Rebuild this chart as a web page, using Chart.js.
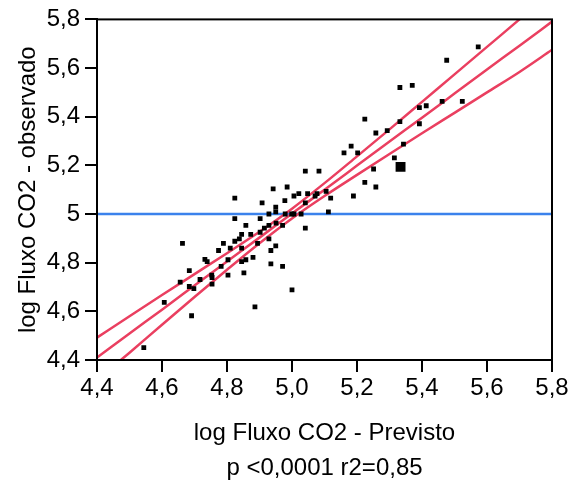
<!DOCTYPE html>
<html>
<head>
<meta charset="utf-8">
<script src="https://cdn.jsdelivr.net/npm/chart.js@4/dist/chart.umd.min.js"></script>
<style>
  body { margin: 0; background: #fff; }
  #wrap { width: 571px; height: 484px; }
</style>
</head>
<body>
<div id="wrap"><canvas id="co2-chart"></canvas></div>
<script>
var previsto = [5.573, 5.476, 5.370, 5.332, 5.392, 5.413, 5.462, 5.524, 5.392, 5.332,
  5.224, 5.293, 5.258, 5.343, 5.182, 5.160, 5.202, 5.315, 5.334, 5.251,
  5.041, 5.083, 5.224, 5.258, 5.189, 5.021, 5.048, 5.071, 5.077, 5.105,
  5.119, 5.041, 5.112, 5.028, 4.942, 4.985, 4.824, 4.908, 5.006, 4.978,
  4.950, 4.950, 4.929, 4.979, 4.999, 5.006, 4.824, 4.858, 4.902, 4.951,
  4.929, 4.971, 4.915, 5.041, 4.902, 4.873, 4.845, 4.838, 4.824, 4.894,
  4.929, 4.789, 4.810, 4.845, 4.950, 4.935, 4.774, 4.732, 4.739, 4.803,
  4.845, 4.858, 4.880, 4.782, 4.935, 4.971, 4.852, 4.803, 4.753, 4.754,
  4.754, 4.717, 5.000, 4.663, 4.684, 4.656, 4.684, 4.698, 4.607, 4.691,
  4.544, 4.886]
var observado = [5.687, 5.632, 5.529, 5.520, 5.437, 5.445, 5.463, 5.463, 5.371, 5.380,
  5.390, 5.343, 5.333, 5.287, 5.279, 5.251, 5.251, 5.231, 5.194, 5.185,
  5.176, 5.176, 5.130, 5.111, 5.074, 5.084, 5.084, 5.074, 5.084, 5.093,
  5.065, 5.046, 5.009, 5.000, 5.103, 5.111, 5.065, 5.046, 5.074, 5.055,
  5.028, 5.009, 5.000, 5.000, 5.000, 5.000, 4.981, 4.953, 4.981, 4.963,
  4.953, 4.953, 4.942, 4.942, 4.925, 4.916, 4.916, 4.898, 4.888, 4.879,
  4.898, 4.879, 4.860, 4.860, 4.869, 4.850, 4.850, 4.814, 4.804, 4.812,
  4.804, 4.812, 4.822, 4.785, 4.795, 4.785, 4.758, 4.749, 4.749, 4.739,
  4.712, 4.731, 4.688, 4.879, 4.767, 4.720, 4.702, 4.693, 4.637, 4.582,
  4.451, 4.618]
var bigPoint = 18 // the one drawn as a larger square

// fit line and confidence curves
var curveX = [4.4, 4.5, 4.6, 4.7, 4.8, 4.9, 5.0, 5.1, 5.2, 5.3, 5.4, 5.5, 5.6, 5.7, 5.8]
var fitY   = [4.410, 4.509, 4.607, 4.706, 4.805, 4.903, 5.002, 5.100, 5.199, 5.298, 5.396, 5.495, 5.594, 5.692, 5.791]
var upperY = [4.492, 4.580, 4.667, 4.753, 4.839, 4.927, 5.022, 5.127, 5.237, 5.348, 5.461, 5.574, 5.687, 5.800, 5.913]
var lowerY = [4.318, 4.430, 4.545, 4.659, 4.771, 4.880, 4.982, 5.074, 5.161, 5.247, 5.332, 5.416, 5.500, 5.584, 5.675]
var meanY = 5

var xTicks = ['4,4', '4,6', '4,8', '5,0', '5,2', '5,4', '5,6', '5,8']
var yTicks = ['4,4', '4,6', '4,8', '5', '5,2', '5,4', '5,6', '5,8']

function pts(xs, ys) {
  return xs.map(function (x, i) { return {x: x, y: ys[i]} })
}

var frame = {
  id: 'frame',
  afterDraw: function (chart) {
    var a = chart.chartArea, ctx = chart.ctx
    ctx.save()
    ctx.strokeStyle = '#000'
    ctx.lineWidth = 2
    ctx.strokeRect(a.left, a.top, a.right - a.left, a.bottom - a.top)
    ctx.restore()
  }
}

Chart.defaults.font.family = '"Liberation Sans", Arial, sans-serif'
Chart.defaults.font.size = 24
Chart.defaults.color = '#000'

var lineStyle = {showLine: true, pointRadius: 0, borderWidth: 2.5, fill: false, cubicInterpolationMode: 'monotone'}

new Chart(document.getElementById('co2-chart'), {
  type: 'scatter',
  data: {
    datasets: [
      {
        data: pts(previsto, observado),
        pointStyle: 'rect',
        pointRadius: previsto.map(function (v, i) { return i === bigPoint ? 7 : 3.4 }),
        backgroundColor: '#000', borderWidth: 0, order: 0
      },
      Object.assign({data: pts([4.4, 5.8], [meanY, meanY]), borderColor: '#3b82ec', borderWidth: 2.5, order: 4}, {showLine: true, pointRadius: 0}),
      Object.assign({data: pts(curveX, upperY), borderColor: '#ea3f60', order: 1}, lineStyle),
      Object.assign({data: pts(curveX, fitY), borderColor: '#ea3f60', order: 2}, lineStyle),
      Object.assign({data: pts(curveX, lowerY), borderColor: '#ea3f60', order: 3}, lineStyle)
    ]
  },
  options: {
    responsive: true, maintainAspectRatio: false, animation: false,
    layout: {padding: {top: 16, right: 19, left: 0, bottom: 0}},
    plugins: {legend: {display: false}, tooltip: {enabled: false}},
    scales: {
      x: {
        min: 4.4, max: 5.8,
        afterFit: function (s) { s.height = 124 },
        border: {color: '#000', width: 2},
        grid: {drawOnChartArea: false, tickLength: 12, lineWidth: 2, color: '#000'},
        ticks: {stepSize: 0.2, padding: 2, maxRotation: 0, callback: function (v, i) { return xTicks[i] }},
        title: {display: true, text: ['log Fluxo CO2 - Previsto', 'p <0,0001 r2=0,85'], font: {size: 24, lineHeight: '35px'}, padding: {top: 0, bottom: -2}}
      },
      y: {
        min: 4.4, max: 5.8,
        afterFit: function (s) { s.width = 97 },
        border: {color: '#000', width: 2},
        grid: {drawOnChartArea: false, tickLength: 12, lineWidth: 2, color: '#000'},
        ticks: {stepSize: 0.2, padding: 5, callback: function (v, i) { return yTicks[i] }},
        title: {display: true, text: 'log Fluxo CO2 - observado', font: {size: 24}, padding: {top: 14, bottom: 0}}
      }
    }
  },
  plugins: [frame]
})
</script>
</body>
</html>
